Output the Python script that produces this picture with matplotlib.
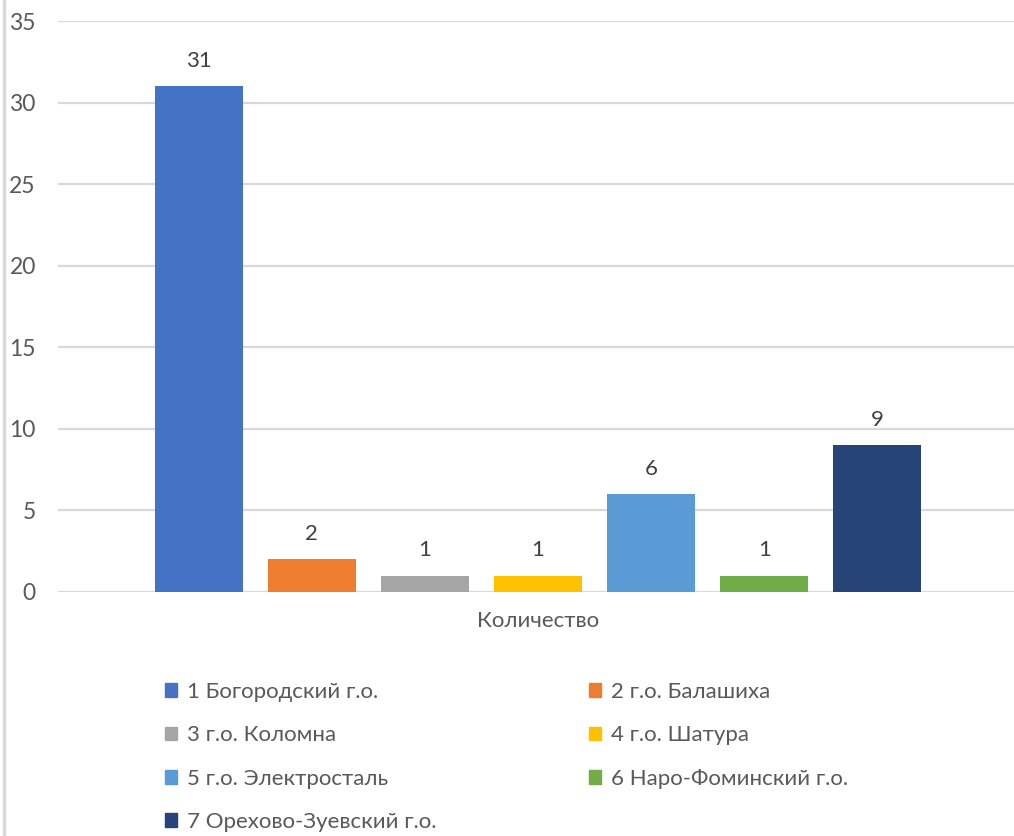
import matplotlib.pyplot as plt
from matplotlib.patches import Patch
from matplotlib.lines import Line2D

plt.rcParams['font.family'] = ['Lato', 'DejaVu Sans']

districts = ["1 Богородский г.о.", "2 г.о. Балашиха", "3 г.о. Коломна", "4 г.о. Шатура",
             "5 г.о. Электросталь", "6 Наро-Фоминский г.о.", "7 Орехово-Зуевский г.о."]
counts = [31, 2, 1, 1, 6, 1, 9]
colors = ["#4472C4", "#ED7D31", "#A5A5A5", "#FFC000", "#5B9BD5", "#70AD47", "#264478"]
yticks = [0, 5, 10, 15, 20, 25, 30, 35]
category = "Количество"

W, H = 1014, 836
fig = plt.figure(figsize=(W / 100, H / 100), dpi=100)
ax = fig.add_axes([58 / W, 1 - 592 / H, (1018 - 58) / W, (592 - 21) / H])

x = list(range(len(counts)))
bars = ax.bar(x, counts, width=0.78, color=colors, zorder=3)
for b, v in zip(bars, counts):
    ax.text(b.get_x() + b.get_width() / 2, v + 0.95, str(v), ha="center", va="bottom",
            fontsize=16, color="#404040")

ax.set_xlim(-1.245, len(counts) - 1 + 1.245)
ax.set_ylim(0, 35)
ax.set_yticks(yticks)
ax.set_xticks([])
ax.grid(axis="y", color="#d9d9d9", lw=1.6, zorder=0)
for s in ax.spines.values():
    s.set_visible(False)
ax.tick_params(axis="y", length=0, labelsize=16.5, labelcolor="#595959", pad=16)
ax.set_xlabel(category, fontsize=16, color="#595959", labelpad=14)

# chart border on the left
fig.add_artist(Line2D([4 / W, 4 / W], [0, 1], color="#d9d9d9", lw=2.5))

order = [0, 2, 4, 6, 1, 3, 5]
handles = [Patch(facecolor=colors[i], edgecolor=colors[i]) for i in order]
labels = [districts[i] for i in order]
fig.legend(handles, labels, ncol=2, loc="upper left", bbox_to_anchor=(145 / W, 1 - 662 / H),
           frameon=False, fontsize=16, labelcolor="#595959", handlelength=0.55,
           handleheight=0.55, handletextpad=0.45, columnspacing=6.85, labelspacing=1.05)

fig.savefig("out.png", dpi=100)
